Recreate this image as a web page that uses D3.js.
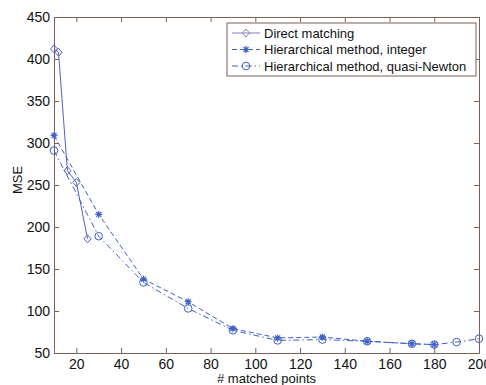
<!DOCTYPE html>
<html>
<head>
<meta charset="utf-8">
<script src="https://cdn.jsdelivr.net/npm/d3@7"></script>
<style>
  body { margin: 0; background: #fff; }
  text { font-family: "Liberation Sans", Arial, sans-serif; fill: #111; }
</style>
</head>
<body>
<svg id="chart" width="486" height="385"></svg>
<script>
// data
var directX = [10, 12, 16, 20, 25];
var directY = [412, 408, 267, 253, 186];
var integerX = [10, 30, 50, 70, 90, 110, 130, 150, 170, 180];
var integerY = [309, 215, 138, 111, 79, 68, 69, 64, 61, 60];
var quasiX = [10, 30, 50, 70, 90, 110, 130, 150, 170, 180, 190, 200];
var quasiY = [291, 189, 134, 103, 77, 65, 66, 64, 61, 60, 63, 67];
var xTicks = [20, 40, 60, 80, 100, 120, 140, 160, 180, 200];
var yTicks = [50, 100, 150, 200, 250, 300, 350, 400, 450];
var legendLabels = ["Direct matching", "Hierarchical method, integer", "Hierarchical method, quasi-Newton"];

var margin = {top: 17, right: 7, bottom: 32, left: 54};
var width = 486 - margin.left - margin.right;
var height = 385 - margin.top - margin.bottom;
var axisColor = "#7d5f55";
var blue = "#3f5fc8";

var svg = d3.select("#chart");
var g = svg.append("g").attr("transform", "translate(" + margin.left + "," + margin.top + ")");

var x = d3.scaleLinear().domain([10, 200]).range([0, width]);
var y = d3.scaleLinear().domain([50, 450]).range([height, 0]);

// axes, matlab style with ticks inside on all four sides
function styleAxis(sel) {
  sel.select(".domain").attr("stroke", axisColor);
  sel.selectAll(".tick line").attr("stroke", axisColor);
  sel.selectAll("text").style("font-size", "14px").attr("fill", "#111");
}
g.append("g").attr("transform", "translate(0," + height + ")")
  .call(d3.axisBottom(x).tickValues(xTicks).tickSizeInner(-5).tickSizeOuter(0).tickPadding(6))
  .call(styleAxis);
g.append("g")
  .call(d3.axisLeft(y).tickValues(yTicks).tickSizeInner(-5).tickSizeOuter(0).tickPadding(4))
  .call(styleAxis);
g.append("g")
  .call(d3.axisTop(x).tickValues(xTicks).tickSizeInner(-5).tickSizeOuter(0).tickFormat(""))
  .call(styleAxis);
g.append("g").attr("transform", "translate(" + width + ",0)")
  .call(d3.axisRight(y).tickValues(yTicks).tickSizeInner(-5).tickSizeOuter(0).tickFormat(""))
  .call(styleAxis);

var series = [
  {xs: directX, ys: directY, dash: null, marker: "diamond", color: "#5560c4"},
  {xs: integerX, ys: integerY, dash: "5,3", marker: "star", color: blue},
  {xs: quasiX, ys: quasiY, dash: "6,3,1.5,3", marker: "circle", color: blue}
];

var line = d3.line().x(function(d) { return x(d[0]); }).y(function(d) { return y(d[1]); });

function drawMarker(sel, type, color) {
  if (type === "diamond") {
    sel.append("path").attr("d", "M0,-4L3.5,0L0,4L-3.5,0Z")
      .attr("fill", "none").attr("stroke", color).attr("stroke-width", 1);
  } else if (type === "circle") {
    sel.append("circle").attr("r", 3.8)
      .attr("fill", "none").attr("stroke", color).attr("stroke-width", 1);
  } else {
    sel.append("path").attr("d", "M-3.5,0L3.5,0M0,-3.5L0,3.5M-2.5,-2.5L2.5,2.5M-2.5,2.5L2.5,-2.5")
      .attr("stroke", color).attr("stroke-width", 1.2);
  }
}

series.forEach(function(s) {
  var pts = s.xs.map(function(v, i) { return [v, s.ys[i]]; });
  g.append("path").datum(pts)
    .attr("d", line)
    .attr("fill", "none")
    .attr("stroke", s.color)
    .attr("stroke-width", 1)
    .attr("stroke-dasharray", s.dash);
  g.selectAll(null).data(pts).enter().append("g")
    .attr("transform", function(d) { return "translate(" + x(d[0]) + "," + y(d[1]) + ")"; })
    .each(function() { drawMarker(d3.select(this), s.marker, s.color); });
});

// legend
var lg = svg.append("g").attr("transform", "translate(227,23)");
lg.append("rect").attr("width", 249).attr("height", 53)
  .attr("fill", "#fff").attr("stroke", axisColor).attr("stroke-width", 1);
var items = lg.selectAll(".legends").data(series).enter().append("g")
  .attr("class", "legends")
  .attr("transform", function(d, i) { return "translate(0," + (10 + i * 16.5) + ")"; });
items.append("line").attr("x1", 5).attr("x2", 33).attr("y1", 0).attr("y2", 0)
  .attr("stroke", function(d, i) { return i === 0 ? "#8a7cc0" : d.color; })
  .attr("stroke-width", 1)
  .attr("stroke-dasharray", function(d) { return d.dash; });
items.append("g").attr("transform", "translate(19,0)")
  .each(function(d, i) { drawMarker(d3.select(this), d.marker, i === 0 ? "#8a7cc0" : d.color); });
items.append("text").text(function(d, i) { return legendLabels[i]; })
  .attr("x", 37).attr("y", 4.5).style("font-size", "13px");

// axis titles
svg.append("text").text("# matched points")
  .attr("x", margin.left + width / 2).attr("y", 383)
  .attr("text-anchor", "middle").style("font-size", "13px");
svg.append("text").text("MSE")
  .attr("transform", "translate(22,180) rotate(-90)")
  .attr("text-anchor", "middle").style("font-size", "13px");
</script>
</body>
</html>
